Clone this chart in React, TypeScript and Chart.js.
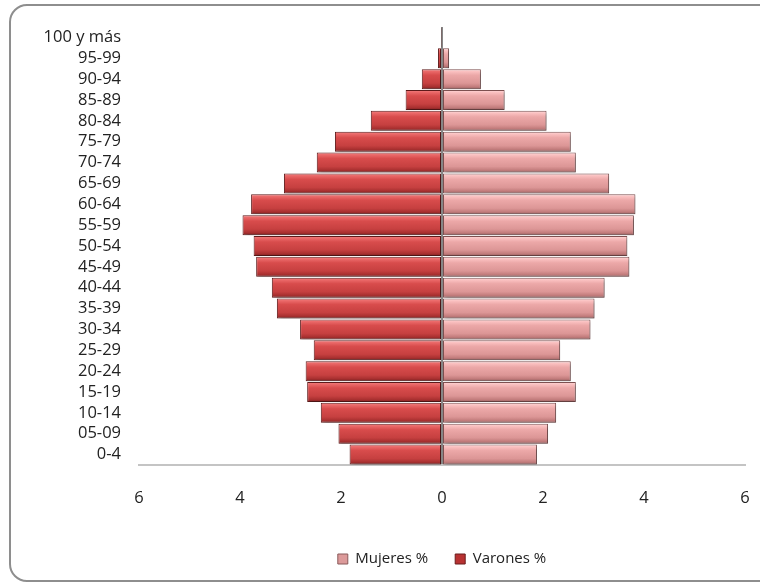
import React, { useEffect, useRef } from "react";
import { Chart, registerables } from "chart.js";

Chart.register(...registerables);

const AGE_GROUPS = [
  "0-4", "05-09", "10-14", "15-19", "20-24", "25-29", "30-34", "35-39",
  "40-44", "45-49", "50-54", "55-59", "60-64", "65-69", "70-74", "75-79",
  "80-84", "85-89", "90-94", "95-99", "100 y más",
];

const MUJERES = [
  1.88, 2.10, 2.26, 2.65, 2.55, 2.34, 2.94, 3.02, 3.22, 3.71, 3.67,
  3.80, 3.83, 3.31, 2.65, 2.55, 2.07, 1.24, 0.77, 0.14, 0.02,
];

const VARONES = [
  1.83, 2.05, 2.40, 2.67, 2.70, 2.54, 2.81, 3.27, 3.37, 3.68, 3.73,
  3.95, 3.78, 3.13, 2.48, 2.12, 1.41, 0.72, 0.40, 0.08, 0.01,
];

const X_MIN = -6;
const X_MAX = 6;
const X_STEP = 2;

const FONT = "'Open Sans', 'Noto Sans', sans-serif";
const CAT_PCT = 0.96;

type Stops = [number, string][];

const RED_STOPS: Stops = [
  [0, "#f48282"],
  [0.12, "#ea6868"],
  [0.3, "#d84c4c"],
  [0.7, "#c64040"],
  [0.88, "#a83030"],
  [1, "#7c2020"],
];
const PINK_STOPS: Stops = [
  [0, "#ffdada"],
  [0.12, "#fac0c0"],
  [0.3, "#eca8a8"],
  [0.7, "#dc9696"],
  [0.88, "#c27c7c"],
  [1, "#966060"],
];

function barGradient(stops: Stops, solid: string) {
  return (ctx: any) => {
    if (ctx.type !== "data") return solid;
    const chart = ctx.chart;
    const area = chart.chartArea;
    const yScale = chart.scales?.y;
    if (!area || !yScale) return solid;
    const c = yScale.getPixelForValue(ctx.dataIndex);
    const h = ((area.bottom - area.top) / AGE_GROUPS.length) * CAT_PCT / 2;
    const g = chart.ctx.createLinearGradient(0, c - h, 0, c + h);
    stops.forEach(([o, col]) => g.addColorStop(o, col));
    return g;
  };
}

const shadowPlugin = {
  id: "barShadow",
  beforeDatasetsDraw(chart: any) {
    const c = chart.ctx;
    c.save();
    c.shadowColor = "rgba(0,0,0,0.28)";
    c.shadowBlur = 3;
    c.shadowOffsetX = 2;
    c.shadowOffsetY = 2;
  },
  afterDatasetsDraw(chart: any) {
    chart.ctx.restore();
  },
};

export default function App() {
  const canvasRef = useRef<HTMLCanvasElement | null>(null);

  useEffect(() => {
    if (!canvasRef.current) return;
    const chart = new Chart(canvasRef.current, {
      type: "bar",
      data: {
        labels: AGE_GROUPS,
        datasets: [
          {
            label: "Mujeres %",
            data: MUJERES,
            backgroundColor: barGradient(PINK_STOPS, "#e0a0a0"),
            borderColor: "#7e5050",
            borderWidth: 1,
            borderSkipped: false,
            barPercentage: 1,
            categoryPercentage: CAT_PCT,
          },
          {
            label: "Varones %",
            data: VARONES.map((v) => -v),
            backgroundColor: barGradient(RED_STOPS, "#c83c3c"),
            borderColor: "#5e1a1a",
            borderWidth: 1,
            borderSkipped: false,
            barPercentage: 1,
            categoryPercentage: CAT_PCT,
          },
        ],
      },
      plugins: [shadowPlugin],
      options: {
        indexAxis: "y",
        responsive: false,
        animation: false,
        layout: { padding: { left: 0, right: 15, top: 27, bottom: 6.5 } },
        scales: {
          x: {
            stacked: true,
            min: X_MIN,
            max: X_MAX,
            z: 1,
            ticks: {
              stepSize: X_STEP,
              padding: 0,
              color: "#222222",
              font: { family: FONT, size: 16.5 },
              callback: (v: any) => String(Math.abs(Number(v))),
            },
            grid: {
              drawTicks: true,
              tickLength: 23.5,
              tickColor: "rgba(0,0,0,0)",
              color: (ctx: any) => (ctx.tick && ctx.tick.value === 0 ? "#868686" : "rgba(0,0,0,0)"),
              lineWidth: 2,
            },
            border: { display: true, color: "#c4c4c4", width: 2 },
            afterFit: (scale: any) => {
              scale.height = 59.5;
            },
          },
          y: {
            stacked: true,
            reverse: true,
            ticks: {
              padding: 0,
              color: "#222222",
              font: { family: FONT, size: 16.5 },
              autoSkip: false,
            },
            grid: { display: false, drawTicks: true, tickLength: 18, tickColor: "rgba(0,0,0,0)" },
            border: { display: false },
            afterFit: (scale: any) => {
              scale.width = 139;
            },
          },
        },
        plugins: {
          legend: {
            position: "bottom",
            fullSize: false,
            labels: {
              boxWidth: 10,
              boxHeight: 10,
              padding: 27,
              color: "#222222",
              font: { family: FONT, size: 15 },
              generateLabels: () => [
                {
                  text: "Mujeres %",
                  fillStyle: "#dc9a9a",
                  strokeStyle: "#8a5a5a",
                  lineWidth: 1,
                  datasetIndex: 0,
                  hidden: false,
                  fontColor: "#222222",
                },
                {
                  text: "Varones %",
                  fillStyle: "#b83232",
                  strokeStyle: "#6a1c1c",
                  lineWidth: 1,
                  datasetIndex: 1,
                  hidden: false,
                  fontColor: "#222222",
                },
              ],
            },
          },
          tooltip: { enabled: false },
        },
      },
    } as any);
    return () => chart.destroy();
  }, []);

  return (
    <div
      style={{
        position: "fixed",
        left: 0,
        top: 0,
        width: 760,
        height: 583,
        background: "#ffffff",
        overflow: "hidden",
      }}
    >
      <div
        style={{
          position: "absolute",
          left: 9,
          top: 4,
          width: 800,
          height: 578,
          boxSizing: "border-box",
          border: "2px solid #8e8e8e",
          borderRadius: 18,
        }}
      />
      <canvas
        ref={canvasRef}
        width={760}
        height={583}
        style={{ position: "absolute", left: 0, top: 0, display: "block" }}
      />
    </div>
  );
}
